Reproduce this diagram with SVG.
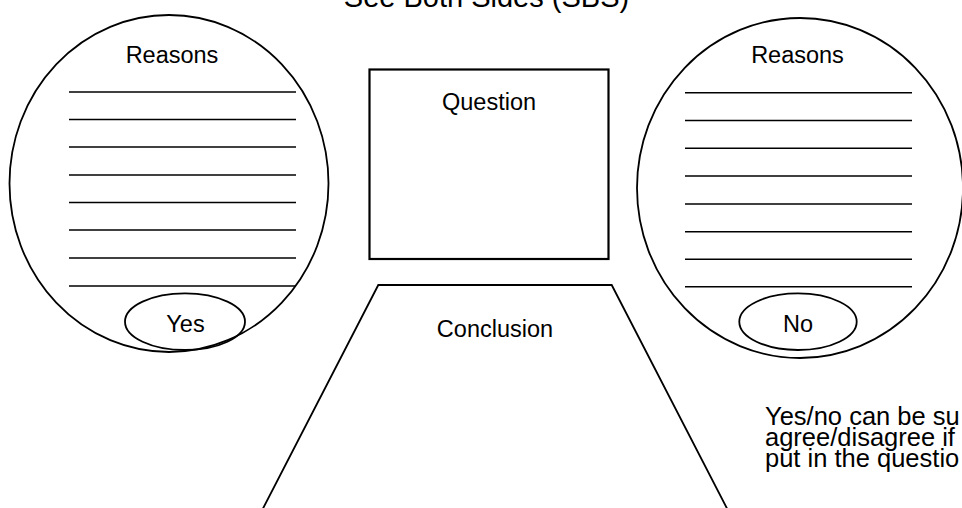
<svg xmlns="http://www.w3.org/2000/svg" width="962" height="508" viewBox="0 0 962 508">
<style>
.s{fill:none;stroke:#000;stroke-width:1.8}
.ln{stroke:#000;stroke-width:1.4}
.t{font-family:"Liberation Sans",Arial,sans-serif;font-size:23.5px;fill:#000;text-anchor:middle}
.n{font-family:"Liberation Sans",Arial,sans-serif;font-size:25.5px;fill:#000}
</style>
<rect width="962" height="508" fill="#fff"/>
<text x="486.5" y="7" class="t" style="font-size:29px">See Both Sides (SBS)</text>
<g id="yes-side">
<ellipse class="s" cx="169" cy="183.5" rx="159.5" ry="168.5"/>
<text class="t" x="172" y="63">Reasons</text>
<g class="ln">
<line x1="69" y1="92" x2="296" y2="92"/>
<line x1="69" y1="119.5" x2="296" y2="119.5"/>
<line x1="69" y1="147" x2="296" y2="147"/>
<line x1="69" y1="175" x2="296" y2="175"/>
<line x1="69" y1="202.5" x2="296" y2="202.5"/>
<line x1="69" y1="230" x2="296" y2="230"/>
<line x1="69" y1="258" x2="296" y2="258"/>
<line x1="69" y1="286" x2="296" y2="286"/>
</g>
</g>
<g id="yes-label">
<ellipse class="s" cx="185" cy="321.7" rx="60" ry="28.3"/>
<text class="t" x="185.5" y="331.5">Yes</text>
</g>
<g id="no-side">
<ellipse class="s" cx="800" cy="188" rx="163" ry="170"/>
<text class="t" x="797.5" y="62.5">Reasons</text>
<g class="ln">
<line x1="685" y1="92.7" x2="912" y2="92.7"/>
<line x1="685" y1="120.5" x2="912" y2="120.5"/>
<line x1="685" y1="148.3" x2="912" y2="148.3"/>
<line x1="685" y1="176" x2="912" y2="176"/>
<line x1="685" y1="204" x2="912" y2="204"/>
<line x1="685" y1="231.7" x2="912" y2="231.7"/>
<line x1="685" y1="259.3" x2="912" y2="259.3"/>
<line x1="685" y1="286.7" x2="912" y2="286.7"/>
</g>
</g>
<g id="no-label">
<ellipse class="s" cx="798" cy="321.7" rx="58.7" ry="28.3"/>
<text class="t" x="798" y="331.5">No</text>
</g>
<g id="question">
<rect class="s" x="369.5" y="69.5" width="239" height="189.5" style="stroke-width:2.2"/>
<text class="t" x="489" y="109.5">Question</text>
</g>
<g id="conclusion">
<path class="s" d="M258.6,517 L378.3,285 L611.7,285 L731.4,517"/>
<text class="t" x="495" y="337">Conclusion</text>
</g>
<g id="note">
<text class="n" x="765" y="425">Yes/no can be su</text>
<text class="n" x="765" y="446">agree/disagree if</text>
<text class="n" x="765" y="467">put in the questio</text>
</g>
<g id="connectors"></g>
</svg>
